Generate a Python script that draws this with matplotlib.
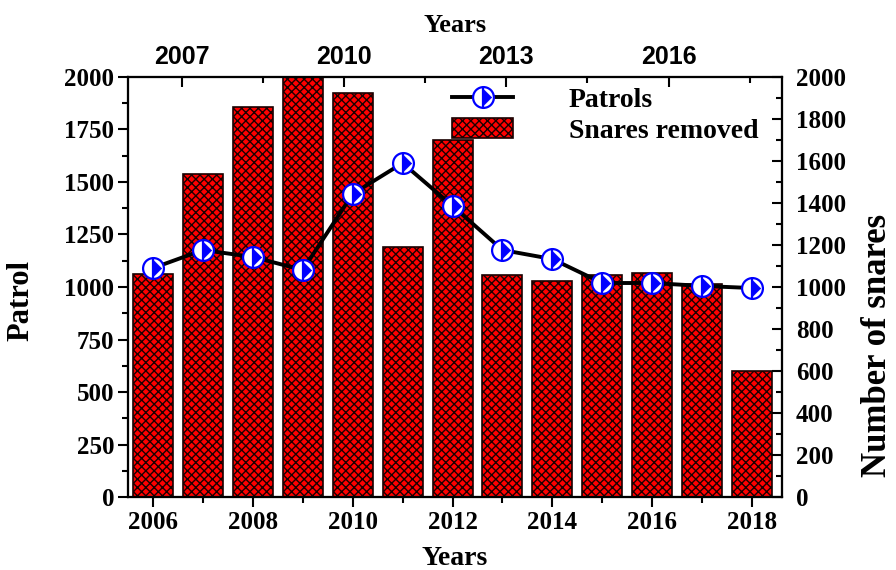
import matplotlib
matplotlib.use("Agg")
import matplotlib.pyplot as plt
from matplotlib.path import Path
from matplotlib.ticker import MultipleLocator, FixedLocator
from matplotlib.legend_handler import HandlerTuple

plt.rcParams['font.family'] = ['Liberation Serif', 'DejaVu Serif']
plt.rcParams['font.weight'] = 'bold'
plt.rcParams['hatch.linewidth'] = 1.0

years = [2006, 2007, 2008, 2009, 2010, 2011, 2012, 2013, 2014, 2015, 2016, 2017, 2018]
snares = [1060, 1540, 1855, 2000, 1925, 1190, 1700, 1055, 1030, 1055, 1065, 1015, 600]
patrols = [1090, 1176, 1143, 1081, 1443, 1590, 1386, 1176, 1133, 1019, 1019, 1005, 995]
top_ticks = [2007, 2010, 2013, 2016]

fig = plt.figure(figsize=(8.96, 5.70), dpi=100)
ax = fig.add_axes([0.1429, 0.128, 0.7299, 0.737])
ax2 = ax.twinx()
ax3 = ax.twiny()

bars = ax2.bar(years, snares, width=0.8, color='#ff0000', edgecolor='#1a0000',
               hatch='xxxx', linewidth=1.2)

tri = Path([(0, -1), (1, 0), (0, 1), (0, -1)],
           [Path.MOVETO, Path.LINETO, Path.LINETO, Path.CLOSEPOLY])
ms = 15
line, = ax.plot(years, patrols, color='black', lw=2.8, zorder=3)
m1, = ax.plot(years, patrols, ls='none', marker='o', ms=ms, mfc='white',
              mec='#0000ff', mew=1.6, zorder=4)
m2, = ax.plot(years, patrols, ls='none', marker=tri, ms=ms * 0.78, mfc='#0000ff',
              mec='#0000ff', mew=0.5, zorder=5)
m3, = ax.plot(years, patrols, ls='none', marker='|', ms=ms, mec='#0000ff',
              mew=1.6, zorder=5)

ax.set_zorder(ax2.get_zorder() + 1)
ax.patch.set_visible(False)
ax3.set_zorder(ax.get_zorder() + 1)
ax3.patch.set_visible(False)

ax.set_xlim(2005.5, 2018.6)
ax.set_ylim(0, 2000)
ax2.set_ylim(0, 2000)
ax3.set_xlim(2006, 2018.1)

ax.xaxis.set_major_locator(MultipleLocator(2))
ax.xaxis.set_minor_locator(MultipleLocator(1))
ax.yaxis.set_major_locator(MultipleLocator(250))
ax.yaxis.set_minor_locator(MultipleLocator(125))
ax2.yaxis.set_major_locator(MultipleLocator(200))
ax2.yaxis.set_minor_locator(MultipleLocator(100))
ax3.xaxis.set_major_locator(FixedLocator(top_ticks))
ax3.xaxis.set_minor_locator(MultipleLocator(1.5))

fs = 18
ax.tick_params(axis='x', which='major', direction='out', length=7, width=1.5, labelsize=fs, pad=3)
ax.tick_params(axis='x', which='minor', direction='out', length=4, width=1.5)
ax.tick_params(axis='y', which='major', direction='out', length=7, width=1.5, labelsize=fs, pad=3)
ax.tick_params(axis='y', which='minor', direction='out', length=4, width=1.5)
ax2.tick_params(axis='y', which='major', direction='in', length=7, width=1.5, labelsize=fs, pad=10)
ax2.tick_params(axis='y', which='minor', direction='in', length=4, width=1.5)
ax3.tick_params(axis='x', which='major', direction='in', length=7, width=1.5, labelsize=fs, pad=6)
ax3.tick_params(axis='x', which='minor', direction='in', length=4, width=1.5)

for a in (ax, ax2, ax3):
    for s in a.spines.values():
        s.set_linewidth(1.5)
    for lbl in a.get_xticklabels() + a.get_yticklabels():
        lbl.set_fontweight('bold')
for lbl in ax3.get_xticklabels():
    lbl.set_family(['Liberation Sans', 'DejaVu Sans'])

ax.set_xlabel('Years', fontsize=20, fontweight='bold', labelpad=9)
ax3.set_xlabel('Years', fontsize=19, fontweight='bold', labelpad=9)
ax.set_ylabel('Patrol', fontsize=22, fontweight='bold')
ax.yaxis.set_label_coords(-0.142, 0.469)
ax2.set_ylabel('Number of snares', fontsize=25, fontweight='bold')
ax2.yaxis.set_label_coords(1.12, 0.36)

leg = ax.legend([(line, m1, m2, m3), bars], ['Patrols', 'Snares removed'],
                handler_map={tuple: HandlerTuple(ndivide=1)},
                loc='upper left', bbox_to_anchor=(0.47, 1.015), frameon=False,
                handlelength=2.2, handleheight=0.7, numpoints=1,
                handletextpad=2.0, labelspacing=0.2, borderaxespad=0.2,
                prop={'weight': 'bold', 'size': 20, 'family': 'Liberation Serif'})

fig.savefig('out.png', dpi=100)
